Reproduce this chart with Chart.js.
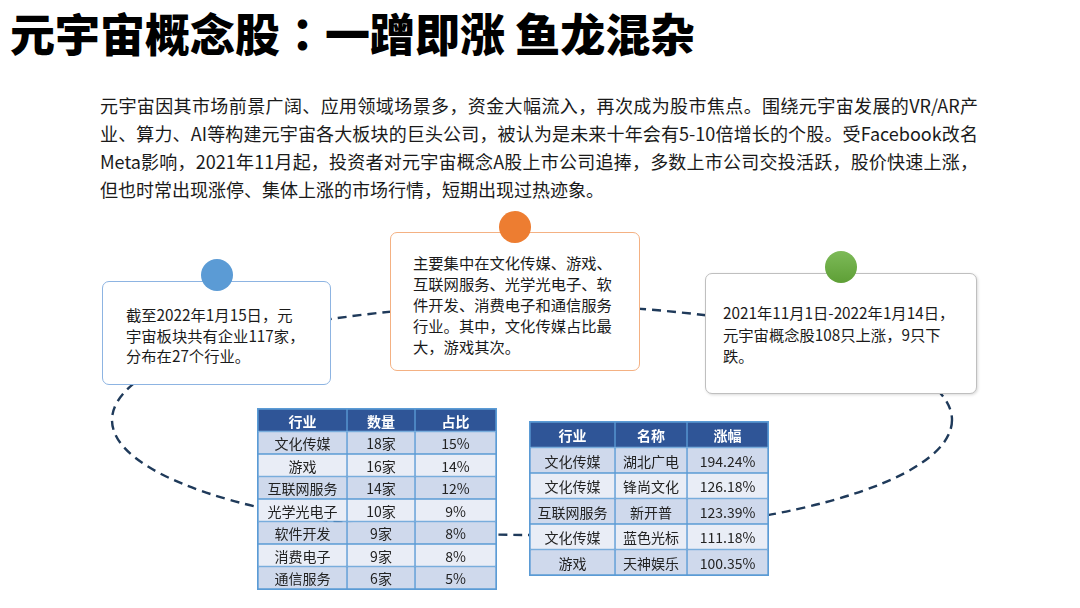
<!DOCTYPE html>
<html>
<head>
<meta charset="utf-8">
<script src="https://cdn.jsdelivr.net/npm/chart.js@4.4.0/dist/chart.umd.min.js"></script>
<style>
  html, body { margin: 0; padding: 0; background: #fff; }
  body { width: 1080px; height: 608px; position: relative; overflow: hidden;
         font-family: "Noto Sans CJK SC", "Noto Sans", sans-serif; color: #1a1a1a; }
  .abs { position: absolute; }
  #title { left: 10px; top: 9px; font-size: 45px; line-height: 48px; font-weight: 900; color: #000; white-space: nowrap; }
  #title .colon { font-family: "Noto Sans CJK TC"; }
  #intro { left: 100px; top: 91px; width: 878px; font-size: 18px; line-height: 28px; }
  #intro div { text-align: justify; text-align-last: justify; white-space: nowrap; }
  #intro div.last { text-align-last: left; }
  .box { position: absolute; background: #fff; border-radius: 7px; box-sizing: border-box;
         font-size: 15.3px; line-height: 21px; color: #1a1a1a; white-space: nowrap; }
  .dot { position: absolute; border-radius: 50%; }
  canvas.tbl { position: absolute; outline: 1px solid #5B9BD5; }
</style>
</head>
<body>
<div id="title" class="abs">元宇宙概念股<span class="colon">：</span>一蹭即涨 鱼龙混杂</div>
<div id="intro" class="abs">
  <div>元宇宙因其市场前景广阔、应用领域场景多，资金大幅流入，再次成为股市焦点。围绕元宇宙发展的VR/AR产</div>
  <div>业、算力、AI等构建元宇宙各大板块的巨头公司，被认为是未来十年会有5-10倍增长的个股。受Facebook改名</div>
  <div>Meta影响，2021年11月起，投资者对元宇宙概念A股上市公司追捧，多数上市公司交投活跃，股价快速上涨，</div>
  <div class="last">但也时常出现涨停、集体上涨的市场行情，短期出现过热迹象。</div>
</div>

<svg class="abs" style="left:0;top:0" width="1080" height="608">
  <ellipse cx="532" cy="420" rx="420" ry="115" fill="none" stroke="#1F3A5A" stroke-width="2.4" stroke-dasharray="9 6"/>
</svg>

<div class="box" style="left:102px;top:281px;width:229px;height:104px;border:1.5px solid #8DB4E2;padding:22px 0 0 23px;line-height:20.5px;">
  截至2022年1月15日，元<br>宇宙板块共有企业117家，<br>分布在27个行业。
</div>
<div class="box" style="left:390px;top:232px;width:250px;height:139px;border:1.5px solid #F4B183;padding:19px 0 0 22px;">
  主要集中在文化传媒、游戏、<br>互联网服务、光学光电子、软<br>件开发、消费电子和通信服务<br>行业。其中，文化传媒占比最<br>大，游戏其次。
</div>
<div class="box" style="left:705px;top:273px;width:272px;height:121px;border:1.5px solid #BFBFBF;padding:28px 0 0 17px;line-height:21.5px;box-shadow:1px 1px 3px rgba(0,0,0,0.15);">
  2021年11月1日-2022年1月14日，<br>元宇宙概念股108只上涨，9只下<br>跌。
</div>

<div class="dot" style="left:201px;top:259px;width:32px;height:32px;background:#5B9BD5;"></div>
<div class="dot" style="left:499px;top:211px;width:32px;height:32px;background:#ED7D31;"></div>
<div class="dot" style="left:825px;top:251px;width:32px;height:32px;background:linear-gradient(#7DBA58,#5E9F36);"></div>

<canvas id="t1" class="tbl" style="left:258px;top:409px;" width="238" height="180"></canvas>
<canvas id="t2" class="tbl" style="left:530px;top:422px;" width="238" height="153"></canvas>

<script>
// table 1: industry distribution of 元宇宙 stocks
const t1Headers = ['行业', '数量', '占比'];
const industries = ['文化传媒', '游戏', '互联网服务', '光学光电子', '软件开发', '消费电子', '通信服务'];
const companyCounts = [18, 16, 14, 10, 9, 9, 6];
const sharePct = [15, 14, 12, 9, 8, 8, 5];

// table 2: top gainers
const t2Headers = ['行业', '名称', '涨幅'];
const topIndustries = ['文化传媒', '文化传媒', '互联网服务', '文化传媒', '游戏'];
const topNames = ['湖北广电', '锋尚文化', '新开普', '蓝色光标', '天神娱乐'];
const topGains = [194.24, 126.18, 123.39, 111.18, 100.35];

// column widths in px (layout only)
const T1_COLS = [89, 68, 81];
const T2_COLS = [85, 72, 81];

const cellText = {
  id: 'cellText',
  afterDatasetsDraw(chart) {
    const ctx = chart.ctx;
    ctx.save();
    ctx.textAlign = 'center';
    ctx.textBaseline = 'middle';
    chart.data.datasets.forEach((ds, di) => {
      chart.getDatasetMeta(di).data.forEach((bar, i) => {
        const p = bar.getCenterPoint();
        if (i === 0) {
          ctx.fillStyle = '#fff';
          ctx.font = 'bold 14px "Noto Sans CJK SC"';
        } else {
          ctx.fillStyle = '#222';
          ctx.font = '14px "Noto Sans CJK SC"';
        }
        ctx.fillText(ds.cellText[i], p.x, p.y + 1);
      });
    });
    ctx.restore();
  }
};

function makeTable(id, headers, columns, widths) {
  const rows = ['head'].concat(columns[0].map((_, i) => 'r' + i));
  const edges = [0];
  widths.forEach(w => edges.push(edges[edges.length - 1] + w));

  const datasets = headers.map((h, c) => ({
    label: h,
    data: rows.map(() => [edges[c], edges[c + 1]]),
    cellText: [h].concat(columns[c]),
    backgroundColor: ctx => ctx.dataIndex === 0 ? '#2F5597' : (ctx.dataIndex % 2 ? '#CFD9EC' : '#E9EDF6'),
    borderColor: '#5B9BD5',
    borderWidth: 1,
    borderSkipped: false,
    barPercentage: 1,
    categoryPercentage: 1,
    grouped: false
  }));

  return new Chart(document.getElementById(id), {
    type: 'bar',
    data: { labels: rows, datasets },
    options: {
      indexAxis: 'y',
      responsive: false,
      animation: false,
      events: [],
      layout: { padding: 0 },
      plugins: { legend: { display: false }, tooltip: { enabled: false } },
      scales: {
        x: { type: 'linear', min: 0, max: edges[edges.length - 1], display: false },
        y: { display: false }
      }
    },
    plugins: [cellText]
  });
}

makeTable('t1', t1Headers, [
  industries,
  companyCounts.map(v => v + '家'),
  sharePct.map(v => v + '%')
], T1_COLS);

makeTable('t2', t2Headers, [
  topIndustries,
  topNames,
  topGains.map(v => v.toFixed(2) + '%')
], T2_COLS);
</script>
</body>
</html>
